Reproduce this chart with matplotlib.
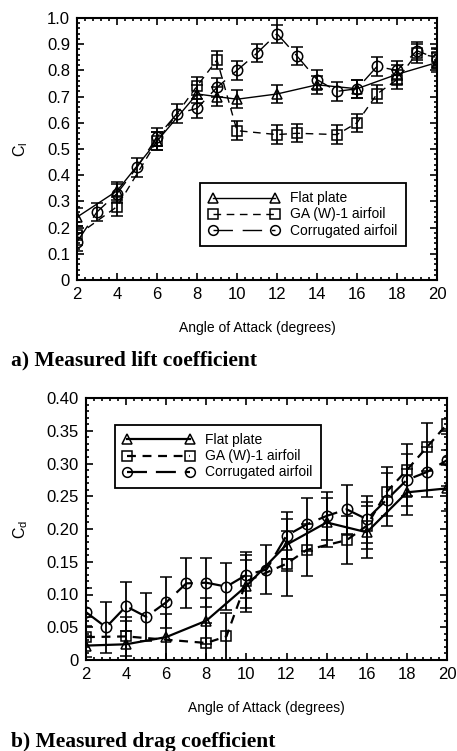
import matplotlib
matplotlib.use("Agg")
import matplotlib.pyplot as plt
from matplotlib.lines import Line2D
from matplotlib.ticker import MultipleLocator, FuncFormatter

plt.rcParams['font.family'] = ['Liberation Sans', 'DejaVu Sans']
plt.rcParams['mathtext.default'] = 'regular'

# ---------------- data: lift coefficient ----------------
cl_flat_x = [2, 4, 6, 8, 9, 10, 12, 14, 16, 18, 20]
cl_flat_y = [0.24, 0.34, 0.53, 0.71, 0.70, 0.69, 0.71, 0.745, 0.73, 0.785, 0.83]
cl_flat_e = [0.035] * len(cl_flat_x)

cl_ga_x = [2, 4, 6, 8, 9, 10, 12, 13, 15, 16, 17, 18, 19, 20]
cl_ga_y = [0.17, 0.28, 0.53, 0.74, 0.84, 0.57, 0.555, 0.56, 0.555, 0.60, 0.71, 0.765, 0.865, 0.85]
cl_ga_e = [0.035] * len(cl_ga_x)

cl_cor_x = [2, 3, 4, 5, 6, 7, 8, 9, 10, 11, 12, 13, 14, 15, 16, 17, 18, 19, 20]
cl_cor_y = [0.145, 0.26, 0.33, 0.43, 0.545, 0.635, 0.655, 0.735, 0.80, 0.866, 0.94, 0.855,
            0.765, 0.72, 0.73, 0.815, 0.80, 0.875, 0.845]
cl_cor_e = [0.035] * len(cl_cor_x)

# ---------------- data: drag coefficient ----------------
cd_flat_x = [2, 4, 6, 8, 10, 12, 14, 16, 18, 20]
cd_flat_y = [0.022, 0.024, 0.035, 0.060, 0.113, 0.176, 0.210, 0.195, 0.256, 0.262]
cd_flat_e = [0.03, 0.035, 0.035, 0.035, 0.04, 0.04, 0.037, 0.04, 0.035, 0.035]

cd_ga_x = [2, 4, 8, 9, 10, 12, 13, 15, 16, 17, 18, 19, 20]
cd_ga_y = [0.035, 0.036, 0.026, 0.036, 0.120, 0.147, 0.168, 0.183, 0.205, 0.257, 0.290, 0.325, 0.360]
cd_ga_e = [0.03, 0.03, 0.03, 0.036, 0.04, 0.05, 0.04, 0.037, 0.036, 0.037, 0.04, 0.037, 0.04]

cd_cor_x = [2, 3, 4, 5, 6, 7, 8, 9, 10, 11, 12, 13, 14, 15, 16, 17, 18, 19, 20]
cd_cor_y = [0.073, 0.050, 0.082, 0.066, 0.088, 0.117, 0.118, 0.112, 0.130, 0.138, 0.190,
            0.207, 0.220, 0.230, 0.215, 0.245, 0.275, 0.287, 0.305]
cd_cor_e = [0.037, 0.039, 0.037, 0.037, 0.039, 0.038, 0.037, 0.036, 0.035, 0.037, 0.036,
            0.04, 0.037, 0.037, 0.036, 0.04, 0.04, 0.038, 0.04]

series_labels = ["Flat plate", "GA (W)-1 airfoil", "Corrugated airfoil"]

W, H = 457, 751
fig = plt.figure(figsize=(W / 100, H / 100), dpi=100)


def px_axes(l, r, t, b):
    return fig.add_axes([l / W, 1 - b / H, (r - l) / W, (b - t) / H])


def style_axes(ax, ymaj, ymin_step, fmt):
    ax.set_xlim(2, 20)
    ax.xaxis.set_major_locator(MultipleLocator(2))
    ax.xaxis.set_minor_locator(MultipleLocator(0.4))
    ax.yaxis.set_major_locator(MultipleLocator(ymaj))
    ax.yaxis.set_minor_locator(MultipleLocator(ymin_step))
    ax.yaxis.set_major_formatter(FuncFormatter(lambda v, p: "0" if abs(v) < 1e-9 else fmt % v))
    ax.tick_params(which='both', direction='in', top=True, right=True, width=1.2)
    ax.tick_params(which='major', length=5, labelsize=12, pad=5)
    ax.tick_params(which='minor', length=2.5)
    for s in ax.spines.values():
        s.set_linewidth(1.5)


def draw(ax, x, y, e, marker, ms, lw, dashes, elw):
    kw = dict(color='black', marker=marker, markersize=ms, markerfacecolor='none',
              markeredgecolor='black', markeredgewidth=1.1, lw=lw,
              ecolor='black', elinewidth=elw, capsize=4, capthick=elw)
    cont = ax.errorbar(x, y, yerr=e, **kw)
    line = cont.lines[0]
    if dashes is None:
        line.set_linestyle('-')
    else:
        line.set_dashes(dashes)
    return line


def legend_handles(lw, dashes_list, ms):
    hs = []
    for mk, d in zip(['^', 's', 'o'], dashes_list):
        h = Line2D([], [], color='black', marker=mk, markersize=ms, markerfacecolor='none',
                   markeredgewidth=1.1, lw=lw)
        if d is None:
            h.set_linestyle('-')
        else:
            h.set_dashes(d)
        hs.append(h)
    return hs


# ---------------- top panel ----------------
ax1 = px_axes(77, 437, 18, 280)
style_axes(ax1, 0.1, 0.02, "%.1f")
ax1.set_ylim(0, 1.0)
top_dashes = [None, (5.5, 4), (14, 7)]
draw(ax1, cl_flat_x, cl_flat_y, cl_flat_e, '^', 7.5, 1.0, top_dashes[0], 1.3)
draw(ax1, cl_ga_x, cl_ga_y, cl_ga_e, 's', 7, 1.0, top_dashes[1], 1.3)
draw(ax1, cl_cor_x, cl_cor_y, cl_cor_e, 'o', 7.5, 1.0, top_dashes[2], 1.3)
ax1.set_ylabel(r"$\mathregular{C_l}$", fontsize=11.5)
ax1.yaxis.set_label_coords(-0.13, 0.5)
ax1.set_xlabel("Angle of Attack (degrees)", fontsize=10)
ax1.xaxis.set_label_coords(0.5, -0.157)
leg1 = ax1.legend(legend_handles(1.0, top_dashes, 7), series_labels, loc='upper left',
                  bbox_to_anchor=(0.342, 0.370), borderaxespad=0, fontsize=10,
                  numpoints=2, handlelength=5.1, handletextpad=0.8, labelspacing=0.15,
                  fancybox=False, framealpha=1, edgecolor='black', borderpad=0.6)
leg1.get_frame().set_linewidth(1.3)

# ---------------- bottom panel ----------------
ax2 = px_axes(86, 447, 398, 660)
style_axes(ax2, 0.05, 0.01, "%.2f")
ax2.set_ylim(0, 0.40)
bot_dashes = [None, (4, 3), (9, 4)]
draw(ax2, cd_flat_x, cd_flat_y, cd_flat_e, '^', 7.5, 1.6, bot_dashes[0], 1.3)
draw(ax2, cd_ga_x, cd_ga_y, cd_ga_e, 's', 7, 1.6, bot_dashes[1], 1.3)
draw(ax2, cd_cor_x, cd_cor_y, cd_cor_e, 'o', 7.5, 1.6, bot_dashes[2], 1.3)
ax2.set_ylabel(r"$\mathregular{C_d}$", fontsize=11.5)
ax2.yaxis.set_label_coords(-0.155, 0.5)
ax2.set_xlabel("Angle of Attack (degrees)", fontsize=10)
ax2.xaxis.set_label_coords(0.5, -0.157)
leg2 = ax2.legend(legend_handles(1.6, bot_dashes, 7), series_labels, loc='upper left',
                  bbox_to_anchor=(0.080, 0.897), borderaxespad=0, fontsize=10,
                  numpoints=2, handlelength=5.1, handletextpad=0.8, labelspacing=0.15,
                  fancybox=False, framealpha=1, edgecolor='black', borderpad=0.6)
leg2.get_frame().set_linewidth(1.3)

# ---------------- captions ----------------
fig.text(11 / W, 1 - 360 / H, "a) Measured lift coefficient", fontsize=15.5,
         fontweight='bold', family='Liberation Serif', va='center', ha='left')
fig.text(11 / W, 1 - 742 / H, "b) Measured drag coefficient", fontsize=15.5,
         fontweight='bold', family='Liberation Serif', va='center', ha='left')

fig.savefig("out.png", dpi=100)
